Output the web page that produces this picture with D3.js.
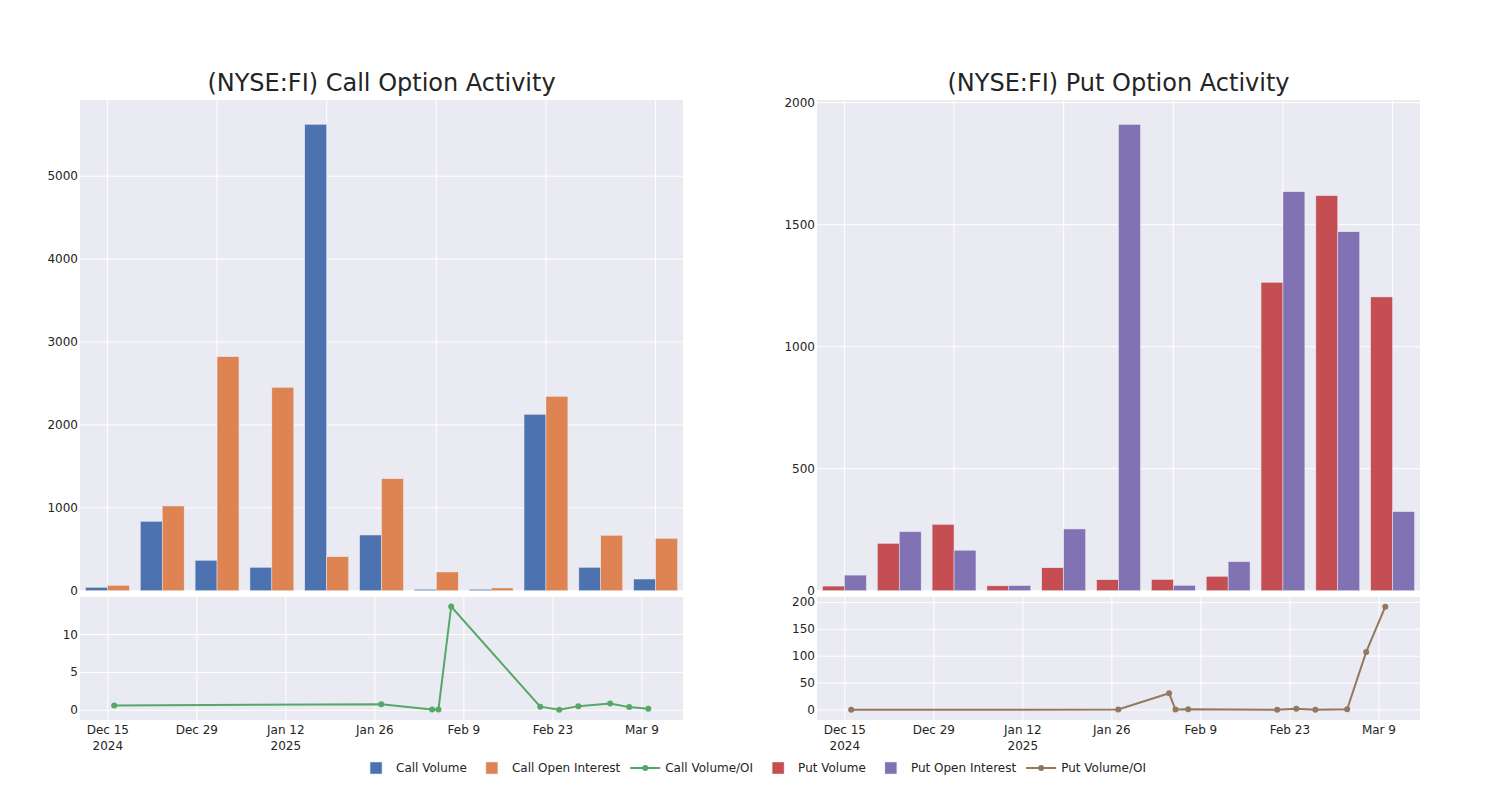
<!DOCTYPE html>
<html>
<head>
<meta charset="utf-8">
<script src="https://cdn.jsdelivr.net/npm/d3@7"></script>
<style>
  body { margin: 0; background: #fff; }
  svg { font-family: "DejaVu Sans", sans-serif; }
</style>
</head>
<body>
<svg width="1500" height="800"></svg>
<script>
// data
const dates = ["2024-12-16","2025-01-27","2025-02-04","2025-02-05","2025-02-07","2025-02-21","2025-02-24","2025-02-27","2025-03-04","2025-03-07","2025-03-10"];
const callVolume = [41, 837, 367, 282, 5626, 672, 17, 17, 2128, 282, 141];
const callOI     = [65, 1022, 2823, 2453, 410, 1351, 226, 33, 2345, 668, 632];
const callRatio  = [0.63, 0.8, 0.12, 0.11, 13.7, 0.48, 0.07, 0.55, 0.9, 0.42, 0.22];
const putVolume  = [19, 194, 272, 20, 94, 45, 46, 59, 1264, 1619, 1204];
const putOI      = [64, 242, 166, 21, 253, 1911, 22, 119, 1635, 1471, 324];
const putRatio   = [0.3, 0.8, 31, 0.9, 1.5, 0.4, 2.2, 0.5, 1.2, 108, 192];

const callBarTicks = [0, 1000, 2000, 3000, 4000, 5000];
const putBarTicks = [0, 500, 1000, 1500, 2000];
const callRatioTicks = [0, 5, 10];
const putRatioTicks = [0, 50, 100, 150, 200];
const dateTicks = ["2024-12-15","2024-12-29","2025-01-12","2025-01-26","2025-02-09","2025-02-23","2025-03-09"];
const dateTickLabels = [["Dec 15","2024"],["Dec 29"],["Jan 12","2025"],["Jan 26"],["Feb 9"],["Feb 23"],["Mar 9"]];

const parse = d3.timeParse("%Y-%m-%d");
const bg = "#EAEAF2", txt = "rgb(36,36,36)";

const svg = d3.select("svg");

const barTop = 100, barBottom = 590.7;
const lineTop = 597, lineBottom = 720;

function panel(o) {
  const g = svg.append("g");
  const w = o.x1 - o.x0;

  // title
  g.append("text")
    .attr("x", (o.x0 + o.x1) / 2).attr("y", 91)
    .attr("text-anchor", "middle")
    .attr("font-size", 24).attr("fill", txt)
    .text(o.title);

  // ---- bars ----
  const x = d3.scaleBand().domain(dates).range([o.x0, o.x1])
    .paddingInner(0.2).paddingOuter(0.1);
  const xSub = d3.scaleBand().domain([0, 1]).range([0, x.bandwidth()]);
  const y = d3.scaleLinear().domain([0, o.barMax]).range([barBottom, barTop]);

  g.append("rect").attr("x", o.x0).attr("y", barTop)
    .attr("width", w).attr("height", barBottom - barTop).attr("fill", bg);

  g.append("g").selectAll("line")
    .data(dates.filter((d, i) => i % 2 == 0))
    .join("line")
    .attr("x1", d => x(d) + x.bandwidth() / 2).attr("x2", d => x(d) + x.bandwidth() / 2)
    .attr("y1", barTop).attr("y2", barBottom)
    .attr("stroke", "#fff").attr("stroke-width", 1);

  g.append("g").selectAll("line")
    .data(o.barTicks)
    .join("line")
    .attr("x1", o.x0).attr("x2", o.x1)
    .attr("y1", d => y(d)).attr("y2", d => y(d))
    .attr("stroke", "#fff").attr("stroke-width", 1);

  g.append("g").selectAll("text")
    .data(o.barTicks)
    .join("text")
    .attr("x", o.x0 - 2).attr("y", d => y(d))
    .attr("text-anchor", "end").attr("dominant-baseline", "central")
    .attr("font-size", 12).attr("fill", txt)
    .text(d => d);

  const series = [o.vol, o.oi];
  series.forEach((vals, s) => {
    g.append("g").selectAll("rect")
      .data(vals)
      .join("rect")
      .attr("x", (d, i) => x(dates[i]) + xSub(s))
      .attr("width", xSub.bandwidth())
      .attr("y", d => y(d))
      .attr("height", d => barBottom - y(d))
      .attr("fill", o.colors[s])
      .attr("stroke", bg).attr("stroke-width", 0.5);
  });

  // ---- ratio line ----
  const xt = d3.scaleTime()
    .domain([new Date(2024, 11, 10, 15), new Date(2025, 2, 15, 11)])
    .range([o.x0, o.x1]);
  const yr = d3.scaleLinear().domain(o.ratioDomain).range([lineBottom, lineTop]);

  g.append("rect").attr("x", o.x0).attr("y", lineTop)
    .attr("width", w).attr("height", lineBottom - lineTop).attr("fill", bg);

  g.append("g").selectAll("line")
    .data(dateTicks)
    .join("line")
    .attr("x1", d => xt(parse(d))).attr("x2", d => xt(parse(d)))
    .attr("y1", lineTop).attr("y2", lineBottom)
    .attr("stroke", "#fff").attr("stroke-width", 1);

  g.append("g").selectAll("line")
    .data(o.ratioTicks)
    .join("line")
    .attr("x1", o.x0).attr("x2", o.x1)
    .attr("y1", d => yr(d)).attr("y2", d => yr(d))
    .attr("stroke", "#fff").attr("stroke-width", 1);

  g.append("g").selectAll("text")
    .data(o.ratioTicks)
    .join("text")
    .attr("x", o.x0 - 2).attr("y", d => yr(d))
    .attr("text-anchor", "end").attr("dominant-baseline", "central")
    .attr("font-size", 12).attr("fill", txt)
    .text(d => d);

  const xl = g.append("g").selectAll("text")
    .data(dateTicks)
    .join("text")
    .attr("x", d => xt(parse(d)))
    .attr("text-anchor", "middle")
    .attr("font-size", 12).attr("fill", txt);
  xl.selectAll("tspan")
    .data((d, i) => dateTickLabels[i])
    .join("tspan")
    .attr("x", function() { return d3.select(this.parentNode).attr("x"); })
    .attr("y", (d, j) => 734 + j * 15.5)
    .text(d => d);

  const line = d3.line()
    .x((d, i) => xt(parse(dates[i])))
    .y(d => yr(d));
  g.append("path").datum(o.ratio)
    .attr("d", line)
    .attr("fill", "none").attr("stroke", o.colors[2]).attr("stroke-width", 2);
  g.append("g").selectAll("circle")
    .data(o.ratio)
    .join("circle")
    .attr("cx", (d, i) => xt(parse(dates[i])))
    .attr("cy", d => yr(d))
    .attr("r", 3)
    .attr("fill", o.colors[2]);
}

panel({
  title: "(NYSE:FI) Call Option Activity",
  x0: 80, x1: 683,
  vol: callVolume, oi: callOI, ratio: callRatio,
  colors: ["#4C72B0", "#DD8452", "#55A868"],
  barMax: 5919, barTicks: callBarTicks,
  ratioDomain: [-1.28, 14.95], ratioTicks: callRatioTicks
});

panel({
  title: "(NYSE:FI) Put Option Activity",
  x0: 817, x1: 1420,
  vol: putVolume, oi: putOI, ratio: putRatio,
  colors: ["#C44E52", "#8172B3", "#937860"],
  barMax: 2011, barTicks: putBarTicks,
  ratioDomain: [-18.6, 210], ratioTicks: putRatioTicks
});

// ---- legend ----
const legendItems = [
  {name: "Call Volume", color: "#4C72B0", type: "bar"},
  {name: "Call Open Interest", color: "#DD8452", type: "bar"},
  {name: "Call Volume/OI", color: "#55A868", type: "line"},
  {name: "Put Volume", color: "#C44E52", type: "bar"},
  {name: "Put Open Interest", color: "#8172B3", type: "bar"},
  {name: "Put Volume/OI", color: "#937860", type: "line"}
];
const legend = svg.append("g");
const items = legend.selectAll("g").data(legendItems).join("g");
items.append("text")
  .attr("x", 40).attr("y", 768)
  .attr("dominant-baseline", "central")
  .attr("font-size", 12).attr("fill", txt)
  .text(d => d.name);
items.filter(d => d.type == "bar").append("rect")
  .attr("x", 14).attr("y", 762).attr("width", 12).attr("height", 12)
  .attr("fill", d => d.color).attr("stroke", bg).attr("stroke-width", 0.5);
items.filter(d => d.type == "line").append("line")
  .attr("x1", 5).attr("x2", 35).attr("y1", 768).attr("y2", 768)
  .attr("stroke", d => d.color).attr("stroke-width", 2);
items.filter(d => d.type == "line").append("circle")
  .attr("cx", 20).attr("cy", 768).attr("r", 3)
  .attr("fill", d => d.color);

let widths = [];
items.each(function() {
  widths.push(40 + d3.select(this).select("text").node().getComputedTextLength());
});
const gap = 5;
const total = d3.sum(widths) + gap * (widths.length - 1);
let cx = 751 - total / 2;
items.attr("transform", (d, i) => {
  const t = `translate(${cx},0)`;
  cx += widths[i] + gap;
  return t;
});
</script>
</body>
</html>
